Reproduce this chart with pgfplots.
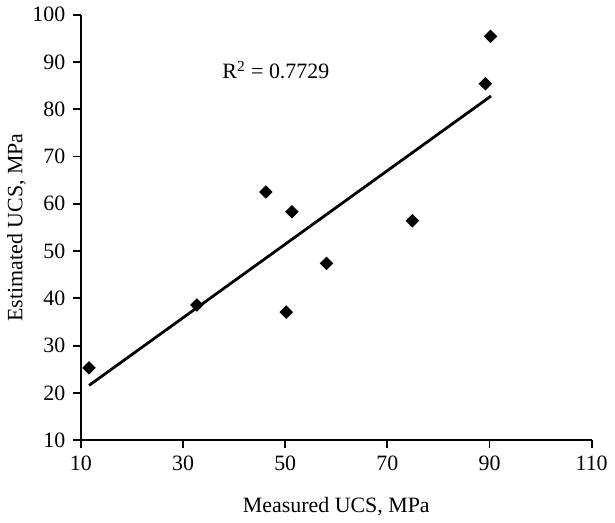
\documentclass[border=0pt]{standalone}
\usepackage{fontspec}
\setmainfont{Liberation Serif}
\usepackage{pgfplots}
\pgfplotsset{compat=1.18}

\begin{document}
\fontsize{11}{13}\selectfont
\begin{tikzpicture}
\begin{axis}[
    scale only axis,
    width=256.5pt, height=213.7pt,
    xmin=10, xmax=110, ymin=10, ymax=100,
    xtick={10,30,...,110},
    ytick={10,20,...,100},
    axis lines=left,
    axis line style={-, line width=0.9pt},
    tick align=outside,
    major tick length=4pt,
    tick style={line width=0.9pt, black},
    /pgf/number format/assume math mode=true,
    tick label style={font=\fontsize{11}{13}\selectfont},
    xlabel={Measured UCS, MPa},
    ylabel={Estimated UCS, MPa},
    x label style={at={(axis description cs:0.5,-0.155)}, anchor=center},
    y label style={at={(axis description cs:-0.126,0.5)}, anchor=center},
    clip=false,
]
% measured vs estimated
\addplot[only marks, mark=square*, mark options={rotate=45}, mark size=2.2pt, black] coordinates {
    (11.6,25.3) (32.7,38.6) (46.2,62.5) (50.2,37.1) (51.3,58.3)
    (58.1,47.4) (74.9,56.4) (89.2,85.4) (90.2,95.4)
};
% linear trend
\addplot[black, line width=1.4pt, no marks] coordinates {
    (11.6,21.6) (90.3,82.8)
};
\node[anchor=base west] at (axis cs:36.2,86.4) {R\textsuperscript{2} = 0.7729};
\end{axis}
\end{tikzpicture}
\end{document}
